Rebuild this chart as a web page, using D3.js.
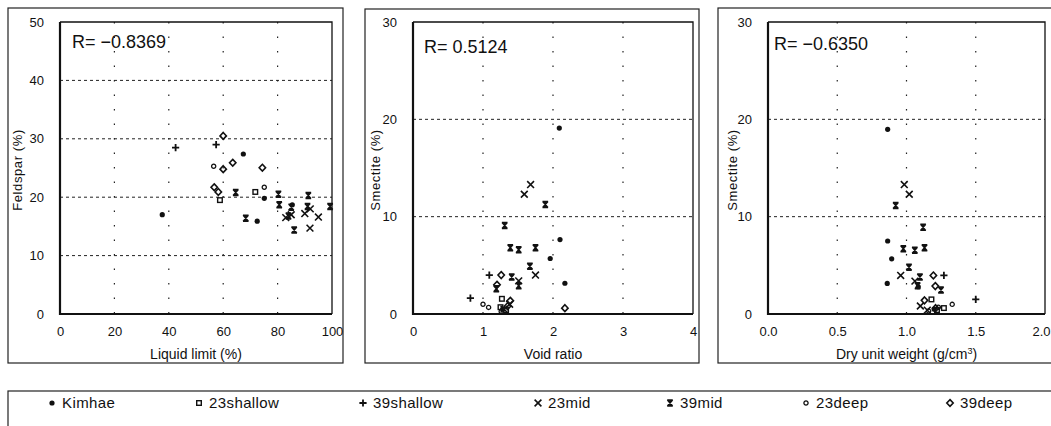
<!DOCTYPE html>
<html>
<head>
<meta charset="utf-8">
<script src="https://cdn.jsdelivr.net/npm/d3@7"></script>
<style>
body { margin: 0; background: #fff; }
text { font-family: Arial, "Liberation Sans", Helvetica, sans-serif; fill: #111; }
</style>
</head>
<body>
<svg id="chart" width="1051" height="426"></svg>
<script>
// series and their marker shapes
var seriesNames = ["Kimhae", "23shallow", "39shallow", "23mid", "39mid", "23deep", "39deep"];
var seriesSymbols = ["dot", "square", "plus", "cross", "star", "circle", "diamond"];

// tick values
var liquidTicks = [0, 20, 40, 60, 80, 100];
var feldsparTicks = [0, 10, 20, 30, 40, 50];
var voidTicks = [0, 1, 2, 3, 4];
var dryTicks = [0, 0.5, 1.0, 1.5, 2.0];
var smectiteTicks = [0, 10, 20, 30];

var rTexts = ["R= \u22120.8369", "R= 0.5124", "R= \u22120.6350"];

// panel 1: liquid limit (%) vs feldspar (%)
var liquidKimhae = [[37.6, 17.0], [67.4, 27.4], [72.5, 15.9], [75.1, 19.8], [85.4, 18.7]];
var liquid23shallow = [[58.8, 19.5], [71.8, 20.9]];
var liquid39shallow = [[42.5, 28.5], [57.4, 29.0]];
var liquid23mid = [[83, 16.5], [85, 17.0], [90, 17.2], [92, 18.0], [91.9, 14.7], [95, 16.6]];
var liquid39mid = [[64.6, 20.8], [68.3, 16.4], [80.3, 20.5], [80.6, 18.7], [84, 16.8], [85, 18.3], [86.1, 14.4], [91.3, 20.3], [91, 18.4], [99.3, 18.4]];
var liquid23deep = [[56.5, 25.3], [75.1, 21.7]];
var liquid39deep = [[60, 30.5], [60, 24.8], [63.5, 25.9], [74.4, 25.05], [56.7, 21.7], [58.2, 20.9]];

// panel 2: void ratio vs smectite (%)
var voidKimhae = [[2.09, 19.1], [2.1, 7.65], [1.96, 5.7], [2.17, 3.16], [1.28, 0.5]];
var void23shallow = [[1.27, 1.56], [1.25, 0.7], [1.33, 0.4]];
var void39shallow = [[1.09, 4.0], [0.82, 1.63]];
var void23mid = [[1.59, 12.3], [1.68, 13.3], [1.75, 4.0], [1.51, 3.4], [1.38, 1.0], [1.3, 0.5]];
var void39mid = [[1.89, 11.26], [1.31, 9.1], [1.39, 6.8], [1.51, 6.6], [1.75, 6.8], [1.67, 4.9], [1.41, 3.8], [1.51, 2.9], [1.19, 2.6]];
var void23deep = [[1.0, 1.0], [1.08, 0.68], [1.26, 0.25]];
var void39deep = [[1.26, 4.0], [1.2, 3.0], [1.39, 1.36], [2.17, 0.6], [1.35, 0.8]];

// panel 3: dry unit weight vs smectite (%)
var dryKimhae = [[0.864, 18.97], [0.864, 7.5], [0.893, 5.67], [0.861, 3.14], [1.085, 2.8], [1.2, 0.5]];
var dry23shallow = [[1.18, 1.5], [1.27, 0.61], [1.22, 0.4]];
var dry39shallow = [[1.27, 3.96], [1.5, 1.5]];
var dry23mid = [[0.984, 13.3], [1.02, 12.3], [0.958, 3.96], [1.061, 3.38], [1.1, 0.82], [1.15, 0.4]];
var dry39mid = [[0.922, 11.15], [1.12, 8.9], [0.977, 6.7], [1.06, 6.55], [1.13, 6.8], [1.018, 4.8], [1.097, 3.79], [1.249, 2.46], [1.08, 2.9]];
var dry23deep = [[1.33, 0.99], [1.23, 0.7], [1.16, 0.3]];
var dry39deep = [[1.194, 3.96], [1.208, 2.87], [1.13, 1.4], [1.21, 0.6]];

// legend layout (x of each marker)
var legendXs = [52, 199, 363, 538, 670, 806, 950];

var svg = d3.select("#chart");

var panels = [
    { frame: [8, 8, 335, 355], plot: [60, 22, 332, 314], xTicks: liquidTicks, yTicks: feldsparTicks,
      xFmt: d3.format("d"), xTitle: "Liquid limit (%)", yTitle: "Feldspar (%)", yLabelX: 17, rPos: [72, 48],
      data: [liquidKimhae, liquid23shallow, liquid39shallow, liquid23mid, liquid39mid, liquid23deep, liquid39deep] },
    { frame: [365, 9, 334, 354], plot: [413, 22, 693, 314], xTicks: voidTicks, yTicks: smectiteTicks,
      xFmt: d3.format("d"), xTitle: "Void ratio", yTitle: "Smectite (%)", yLabelX: 375, rPos: [424, 53],
      data: [voidKimhae, void23shallow, void39shallow, void23mid, void39mid, void23deep, void39deep] },
    { frame: [718, 8, 345, 355], plot: [768, 22, 1045, 314], xTicks: dryTicks, yTicks: smectiteTicks,
      xFmt: d3.format(".1f"), xTitle: "Dry unit weight (g/cm", yTitle: "Smectite (%)", yLabelX: 732, rPos: [774, 50],
      data: [dryKimhae, dry23shallow, dry39shallow, dry23mid, dry39mid, dry23deep, dry39deep] }
];

// draws one marker centred on 0,0 inside g
function drawMarker(g, type) {
    if (type === "dot") {
        g.append("circle").attr("r", 2.6).attr("fill", "#111");
    } else if (type === "square") {
        g.append("rect").attr("x", -2.3).attr("y", -2.3).attr("width", 4.6).attr("height", 4.6)
            .attr("fill", "none").attr("stroke", "#111").attr("stroke-width", 1.4);
    } else if (type === "plus") {
        g.append("path").attr("d", "M-3.6,0H3.6M0,-3.6V3.6")
            .attr("stroke", "#111").attr("stroke-width", 1.8);
    } else if (type === "cross") {
        g.append("path").attr("d", "M-3.4,-3.4L3.4,3.4M3.4,-3.4L-3.4,3.4")
            .attr("stroke", "#111").attr("stroke-width", 1.6);
    } else if (type === "star") {
        g.append("path").attr("d", "M-2.6,-3L2.6,3M2.6,-3L-2.6,3M-2.8,-3H2.8M-2.8,3H2.8M0,-3V3")
            .attr("stroke", "#111").attr("stroke-width", 1.5);
    } else if (type === "circle") {
        g.append("circle").attr("r", 2.1).attr("fill", "none")
            .attr("stroke", "#111").attr("stroke-width", 1.3);
    } else if (type === "diamond") {
        g.append("path").attr("d", "M0,-3.4L3.2,0L0,3.4L-3.2,0Z").attr("fill", "none")
            .attr("stroke", "#111").attr("stroke-width", 1.6);
    }
}

panels.forEach(function (p, pi) {
    var g = svg.append("g");

    // outer frame
    g.append("rect")
        .attr("x", p.frame[0]).attr("y", p.frame[1])
        .attr("width", p.frame[2]).attr("height", p.frame[3])
        .attr("fill", "none").attr("stroke", "#222").attr("stroke-width", 1.2);

    var x = d3.scaleLinear()
        .domain([p.xTicks[0], p.xTicks[p.xTicks.length - 1]])
        .range([p.plot[0], p.plot[2]]);
    var y = d3.scaleLinear()
        .domain([p.yTicks[0], p.yTicks[p.yTicks.length - 1]])
        .range([p.plot[3], p.plot[1]]);

    // dashed horizontal grid
    g.selectAll(".hg").data(p.yTicks.slice(1, -1)).enter().append("line")
        .attr("x1", p.plot[0]).attr("x2", p.plot[2])
        .attr("y1", function (d) { return y(d); }).attr("y2", function (d) { return y(d); })
        .attr("stroke", "#222").attr("stroke-width", 1).style("stroke-dasharray", "3,3");

    // dotted vertical grid
    g.selectAll(".vg").data(p.xTicks.slice(1, -1)).enter().append("line")
        .attr("x1", function (d) { return x(d); }).attr("x2", function (d) { return x(d); })
        .attr("y1", p.plot[1]).attr("y2", p.plot[3])
        .attr("stroke", "#222").attr("stroke-width", 1.2).style("stroke-dasharray", "1.5,13");

    // plot area border: thick left/bottom, thin top/right
    g.append("path")
        .attr("d", "M" + p.plot[0] + "," + p.plot[1] + "H" + p.plot[2] + "V" + p.plot[3])
        .attr("fill", "none").attr("stroke", "#111").attr("stroke-width", 1.3);
    g.append("path")
        .attr("d", "M" + p.plot[0] + "," + p.plot[1] + "V" + p.plot[3] + "H" + p.plot[2])
        .attr("fill", "none").attr("stroke", "#111").attr("stroke-width", 2.2);

    // axes (labels only)
    var xAxis = g.append("g")
        .attr("transform", "translate(0," + p.plot[3] + ")")
        .call(d3.axisBottom(x).tickValues(p.xTicks).tickFormat(p.xFmt).tickSize(0).tickPadding(13));
    var yAxis = g.append("g")
        .attr("transform", "translate(" + p.plot[0] + ",0)")
        .call(d3.axisLeft(y).tickValues(p.yTicks).tickSize(0).tickPadding(16));
    [xAxis, yAxis].forEach(function (a) {
        a.select(".domain").remove();
        a.selectAll("text").style("font-size", "13px").attr("fill", "#111")
            .style("font-family", "Arial, 'Liberation Sans', sans-serif");
    });
    // last label of the right panel sits at the picture edge
    if (pi === 2) {
        xAxis.selectAll(".tick:last-of-type text").attr("text-anchor", "end").attr("x", 5);
    }

    // axis titles
    var xt = g.append("text")
        .attr("x", (p.plot[0] + p.plot[2]) / 2).attr("y", 359)
        .attr("text-anchor", "middle").style("font-size", "14px")
        .text(p.xTitle);
    if (pi === 2) {
        xt.append("tspan").attr("dy", -5).style("font-size", "9px").text("3");
        xt.append("tspan").attr("dy", 5).text(")");
    }
    g.append("text")
        .attr("transform", "translate(" + p.yLabelX + ",170) rotate(-90)")
        .attr("text-anchor", "middle").attr("dy", "0.35em")
        .style("font-size", "13px").style("letter-spacing", "0.6px")
        .text(p.yTitle);

    // correlation text
    g.append("text")
        .attr("x", p.rPos[0]).attr("y", p.rPos[1])
        .style("font-size", "18px")
        .text(rTexts[pi]);

    // markers
    p.data.forEach(function (pts, si) {
        g.selectAll(".m" + si).data(pts).enter().append("g")
            .attr("transform", function (d) { return "translate(" + x(d[0]) + "," + y(d[1]) + ")"; })
            .each(function () { drawMarker(d3.select(this), seriesSymbols[si]); });
    });
});

// legend
var legend = svg.append("g");
legend.append("rect")
    .attr("x", 8).attr("y", 391).attr("width", 1060).attr("height", 60)
    .attr("fill", "none").attr("stroke", "#222").attr("stroke-width", 1.2);

var items = legend.selectAll(".li").data(seriesNames).enter().append("g")
    .attr("transform", function (d, i) { return "translate(" + legendXs[i] + ",403)"; });
items.each(function (d, i) { drawMarker(d3.select(this), seriesSymbols[i]); });
items.append("text")
    .attr("x", 10).attr("dy", "0.36em")
    .style("font-size", "15px").style("letter-spacing", "0.4px")
    .text(function (d) { return d; });
</script>
</body>
</html>
